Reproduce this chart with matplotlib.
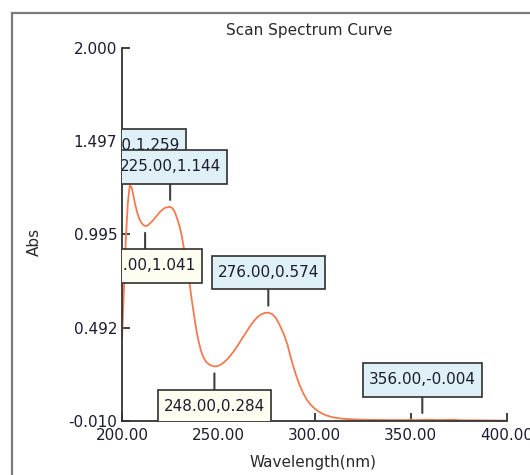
import matplotlib
matplotlib.use("Agg")
import matplotlib.pyplot as plt
from matplotlib.patches import Rectangle
from matplotlib.path import Path

# Absorbance scan, wavelength in nm
wavelength = [200, 201, 202, 203, 204, 205, 206, 207, 208, 209, 210, 211, 212, 213,
              214, 216, 218, 220, 222, 224, 225, 226, 227, 228, 229, 230, 231, 232,
              233, 234, 235, 236, 237, 238, 239, 240, 241, 242, 243, 244, 246, 248,
              250, 252, 254, 256, 258, 260, 262, 264, 266, 268, 270, 272, 274, 276,
              278, 280, 282, 284, 286, 288, 290, 292, 294, 296, 298, 300, 302, 304,
              306, 308, 310, 314, 318, 322, 330, 340, 348, 350, 352, 356, 360, 364,
              368, 372, 376, 380, 390, 400]
absorbance = [0.43, 0.70, 0.97, 1.16, 1.259, 1.25, 1.20, 1.15, 1.11, 1.08, 1.06, 1.047,
              1.041, 1.042, 1.050, 1.070, 1.095, 1.120, 1.137, 1.143, 1.144, 1.138,
              1.125, 1.100, 1.070, 1.035, 0.99, 0.93, 0.87, 0.81, 0.74, 0.66, 0.59,
              0.52, 0.46, 0.41, 0.37, 0.34, 0.32, 0.305, 0.290, 0.284, 0.287, 0.298,
              0.316, 0.338, 0.365, 0.395, 0.428, 0.460, 0.492, 0.522, 0.546, 0.563,
              0.572, 0.574, 0.566, 0.545, 0.505, 0.460, 0.400, 0.320, 0.250, 0.190,
              0.142, 0.105, 0.078, 0.058, 0.042, 0.030, 0.021, 0.014, 0.009, 0.003,
              0.000, -0.002, -0.004, -0.005, -0.005, -0.003, -0.005, -0.004, -0.003,
              -0.005, -0.004, -0.003, -0.006, -0.006, -0.007, -0.008]

# Marked peaks (above the curve) and valleys (below the curve)
peak_nm = [204.00, 225.00, 276.00, 356.00]
peak_abs = [1.259, 1.144, 0.574, -0.004]
valley_nm = [212.00, 248.00]
valley_abs = [1.041, 0.284]

x_ticks = [200.00, 250.00, 300.00, 350.00, 400.00]
y_ticks = [-0.010, 0.492, 0.995, 1.497, 2.000]

text_color = "#1c1c30"
axis_color = "#333333"


def label_box(x0, y0, width, height, mutation_size):
    """Square box with more padding above/below than at the sides."""
    px = 0.38 * mutation_size
    py = 0.6 * mutation_size
    x0, y0 = x0 - px, y0 - py
    x1, y1 = x0 + width + 2 * px, y0 + height + 2 * py
    return Path([(x0, y0), (x1, y0), (x1, y1), (x0, y1), (x0, y0)], closed=True)


fig = plt.figure(figsize=(5.30, 4.75), dpi=100)
fig.patches.append(Rectangle((12 / 530, -0.2), 1.2, 1.2 - 13 / 475,
                             transform=fig.transFigure, fill=False,
                             edgecolor="#7a7a7a", linewidth=1.6))

ax = fig.add_axes([122 / 530, 1 - 421 / 475, 385 / 530, 373 / 475])
ax.plot(wavelength, absorbance, color="#f47a50", linewidth=1.3, zorder=2)
ax.set_xlim(200, 400)
ax.set_ylim(-0.010, 2.000)

for side in ("top", "right"):
    ax.spines[side].set_visible(False)
for side in ("left", "bottom"):
    ax.spines[side].set_color(axis_color)
    ax.spines[side].set_linewidth(1.3)

ax.set_xticks(x_ticks)
ax.set_xticklabels([f"{t:.2f}" for t in x_ticks])
ax.set_yticks(y_ticks)
ax.set_yticklabels([f"{t:.3f}" for t in y_ticks])
ax.tick_params(axis="both", direction="in", length=6, width=1.3,
               color=axis_color, labelsize=11, labelcolor=text_color)
ax.tick_params(axis="x", pad=5)
ax.tick_params(axis="y", pad=3.5)


def mark(x, y, above, face):
    ax.annotate(f"{x:.2f},{y:.3f}", xy=(x, y),
                xytext=(0, 40 if above else -40), textcoords="offset pixels",
                ha="center", va="center", fontsize=11, color=text_color,
                bbox=dict(boxstyle=label_box, facecolor=face,
                          edgecolor="#303030", linewidth=1.2),
                arrowprops=dict(arrowstyle="-", color="#404040", linewidth=1.5,
                                shrinkA=0, shrinkB=5),
                clip_on=True, zorder=5)


for x, y in zip(peak_nm, peak_abs):
    mark(x, y, True, "#dff0f7")
for x, y in zip(valley_nm, valley_abs):
    mark(x, y, False, "#fffdf0")

fig.text(309 / 530, 1 - 30 / 475, "Scan Spectrum Curve", ha="center",
         va="center", fontsize=11, color="#2a2a2a")
fig.text(313 / 530, 1 - 462 / 475, "Wavelength(nm)", ha="center",
         va="center", fontsize=11, color="#2a2a2a")
fig.text(34 / 530, 1 - 242 / 475, "Abs", ha="center", va="center",
         rotation=90, fontsize=11, color="#2a2a2a")

fig.savefig("out.png", dpi=100)
